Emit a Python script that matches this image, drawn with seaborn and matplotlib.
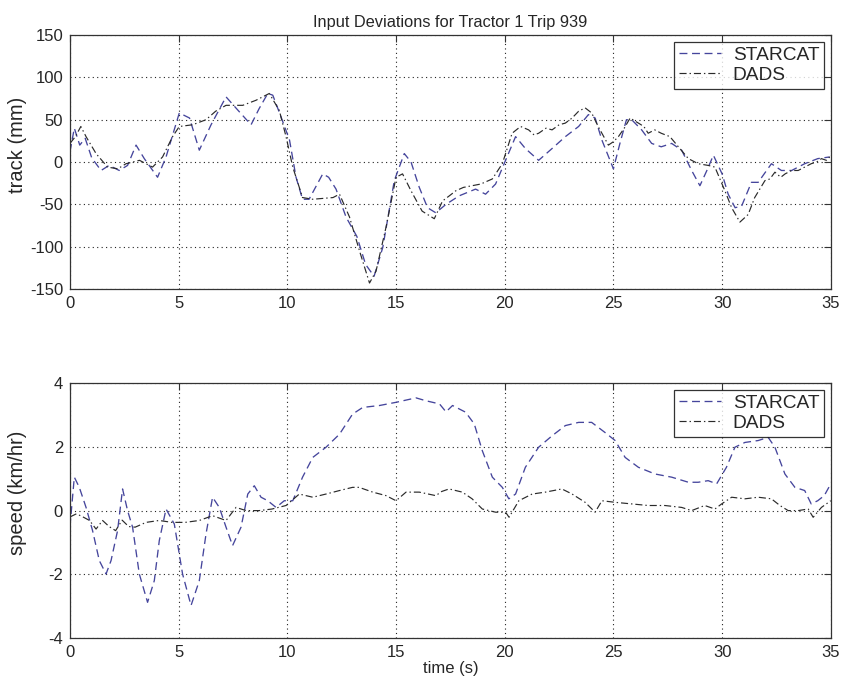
import matplotlib
matplotlib.use("Agg")
import matplotlib.pyplot as plt
import seaborn as sns

# ---- data ----
# Top panel: track (mm)
track_starcat_t = [0.0, 0.2, 0.45, 0.7, 1.0, 1.43, 1.8, 2.27, 2.65, 3.04, 3.42, 4.03, 4.42, 5.03, 5.5, 5.95,
                   6.49, 7.18, 7.7, 8.33, 8.7, 9.1, 9.33, 9.7, 10.1, 10.4, 10.7, 11.0, 11.63, 11.9, 12.24,
                   12.7, 13.2, 13.6, 13.99, 14.39, 14.92, 15.38, 15.69, 16.07, 16.45, 16.83, 17.3, 17.9,
                   18.66, 19.12, 19.58, 20.04, 20.5, 20.95, 21.56, 22.18, 22.79, 23.4, 23.85, 24.16, 24.47,
                   25.0, 25.3, 25.6, 25.84, 26.3, 26.76, 27.2, 27.68, 28.14, 28.6, 28.98, 29.3, 29.6, 30.0,
                   30.28, 30.6, 30.9, 31.35, 31.66, 32.27, 32.73, 33.2, 33.8, 34.4, 34.95]
track_starcat = [12, 40, 20, 28, 5, -10, -4, -10, -4, 20, 4, -18, 6, 58, 52, 14,
                 44, 77, 62, 44, 63, 81, 79, 54, 26, -18, -44, -44, -14, -18, -32,
                 -65, -88, -121, -135, -101, -22, 10, 0, -30, -54, -60, -50, -40,
                 -32, -38, -26, 2, 30, 16, 2, 16, 30, 42, 56, 52, 26,
                 -8, 22, 50, 50, 38, 22, 18, 22, 14, -10, -28, -10, 8, -14,
                 -38, -54, -52, -24, -24, -2, -10, -10, -2, 4, 6]

track_dads_t = [0.0, 0.25, 0.5, 0.74, 1.2, 1.73, 2.2, 2.58, 3.2, 3.8, 4.26, 4.72, 5.03, 5.64, 6.26, 6.7,
                7.18, 7.95, 8.56, 9.17, 9.63, 9.94, 10.25, 10.7, 11.17, 12.1, 12.4, 12.86, 13.32, 13.78,
                14.08, 14.54, 15.0, 15.3, 15.69, 16.2, 16.76, 17.14, 17.45, 17.75, 18.1, 18.5, 18.9, 19.43,
                19.89, 20.34, 20.73, 21.1, 21.35, 21.56, 21.9, 22.18, 22.5, 22.79, 23.1, 23.4, 23.7, 24.0,
                24.3, 24.77, 25.0, 25.23, 25.5, 25.77, 26.15, 26.4, 26.6, 26.9, 27.2, 27.6, 27.99, 28.45,
                28.9, 29.36, 29.67, 30.13, 30.44, 30.82, 31.2, 31.5, 31.97, 32.2, 32.43, 32.7, 32.9, 33.2,
                33.5, 33.8, 34.1, 34.35, 34.57, 34.8, 34.95]
track_dads = [22, 30, 42, 30, 10, -6, -8, -2, 2, -6, 6, 30, 42, 44, 50, 60,
              67, 67, 73, 81, 61, 30, -6, -42, -44, -42, -38, -65, -105, -143,
              -129, -77, -18, -14, -34, -58, -67, -46, -40, -34, -30, -28, -26, -20,
              -2, 34, 42, 38, 32, 34, 40, 38, 44, 46, 52, 60, 64, 58,
              42, 20, 24, 30, 40, 52, 46, 42, 34, 38, 34, 30, 18, 4,
              -2, -4, -6, -34, -54, -71, -62, -42, -22, -20, -12, -18, -14, -10,
              -10, -6, -2, 0, 4, 2, 6]

# Bottom panel: speed (km/hr)
speed_starcat_t = [0.0, 0.2, 0.43, 0.74, 1.04, 1.35, 1.66, 1.89, 2.19, 2.42, 2.65, 2.88, 3.19, 3.57, 3.88,
                   4.11, 4.42, 4.8, 5.18, 5.57, 5.95, 6.26, 6.56, 6.87, 7.18, 7.48, 7.87, 8.18, 8.48, 8.79,
                   9.1, 9.48, 9.86, 10.25, 10.7, 11.17, 11.78, 12.4, 13.0, 13.47, 14.24, 15.0, 15.92,
                   16.37, 17.0, 17.3, 17.6, 18.2, 18.6, 18.97, 19.43, 19.89, 20.19, 20.5, 20.95, 21.56,
                   22.18, 22.79, 23.4, 24.0, 24.6, 25.08, 25.54, 26.15, 26.91, 27.68, 28.45, 28.9, 29.36,
                   29.75, 30.2, 30.59, 31.05, 31.66, 32.12, 32.43, 32.89, 33.35, 33.8, 34.1, 34.4, 34.7, 35.0]
speed_starcat = [-0.5, 1.05, 0.73, 0.1, -0.63, -1.57, -1.99, -1.57, -0.63, 0.68, 0.0, -0.52, -1.99, -2.88, -2.2,
                 -0.94, 0.05, -0.42, -1.99, -2.98, -2.2, -0.73, 0.42, 0.1, -0.52, -1.1, -0.52, 0.52, 0.78, 0.42,
                 0.31, 0.1, 0.31, 0.31, 1.05, 1.67, 1.99, 2.4, 3.03, 3.24, 3.3, 3.4, 3.54,
                 3.45, 3.35, 3.1, 3.3, 3.09, 2.72, 1.88, 1.05, 0.73, 0.37, 0.52, 1.36, 1.99,
                 2.35, 2.67, 2.77, 2.77, 2.46, 2.2, 1.67, 1.36, 1.15, 1.05, 0.89, 0.89, 0.94,
                 0.84, 1.36, 1.99, 2.14, 2.2, 2.3, 1.99, 1.15, 0.73, 0.63, 0.21, 0.31, 0.47, 0.84]

speed_dads_t = [0.0, 0.3, 0.6, 0.9, 1.2, 1.5, 1.8, 2.1, 2.4, 2.7, 3.0, 3.5, 4.1, 4.7, 5.3, 5.95, 6.56,
                7.18, 7.64, 8.1, 8.7, 9.3, 9.94, 10.55, 11.17, 11.78, 12.4, 13.0, 13.3, 13.93, 14.54, 15.0,
                15.46, 16.07, 16.83, 17.1, 17.44, 18.05, 18.5, 18.97, 19.58, 20.04, 20.2, 20.65, 21.26,
                21.87, 22.63, 23.1, 23.7, 24.16, 24.47, 25.08, 25.84, 26.6, 27.37, 28.14, 28.6, 29.2,
                29.67, 29.98, 30.44, 31.05, 31.66, 32.27, 32.66, 33.04, 33.5, 33.96, 34.19, 34.57, 35.0]
speed_dads = [-0.2, -0.1, -0.2, -0.31, -0.58, -0.31, -0.5, -0.63, -0.3, -0.5, -0.52, -0.37, -0.31, -0.37,
              -0.37, -0.31, -0.16, -0.31, 0.1, 0.0, 0.0, 0.05, 0.16, 0.52, 0.42, 0.52, 0.63, 0.73, 0.73,
              0.58, 0.47, 0.31, 0.58, 0.58, 0.47, 0.6, 0.68, 0.58, 0.37, 0.05, -0.05, -0.05, -0.21, 0.31,
              0.52, 0.58, 0.68, 0.52, 0.26, -0.05, 0.31, 0.26, 0.21, 0.16, 0.16, 0.1, 0.0, 0.16,
              0.05, 0.21, 0.42, 0.37, 0.42, 0.37, 0.16, 0.0, 0.0, 0.05, -0.21, 0.1, 0.31]

series_names = ["STARCAT", "DADS"]
title = "Input Deviations for Tractor 1 Trip 939"

# ---- style ----
sns.set_style("white")
plt.rcParams["font.family"] = ["Liberation Sans", "DejaVu Sans"]
plt.rcParams["axes.unicode_minus"] = False

fig = plt.figure(figsize=(8.46, 6.88), dpi=100)
ax1 = fig.add_axes([0.0827, 0.580, 0.8993, 0.369])
ax2 = fig.add_axes([0.0827, 0.0727, 0.8993, 0.3703])

c_star = "#45459c"
c_dads = "#2a2a2a"
dash_star = [6, 3.5]
dash_dads = [6, 2.5, 1.2, 2.5]

def panel(ax, ts, ys, td, yd, ylim, yticks, ylabel):
    sns.lineplot(x=ts, y=ys, ax=ax, color=c_star, linewidth=0.95, label=series_names[0])
    sns.lineplot(x=td, y=yd, ax=ax, color=c_dads, linewidth=0.85, label=series_names[1])
    ax.lines[0].set_dashes(dash_star)
    ax.lines[1].set_dashes(dash_dads)
    ax.set_xlim(0, 35)
    ax.set_ylim(*ylim)
    ax.set_xticks(range(0, 36, 5))
    ax.set_yticks(yticks)
    ax.grid(True, color="#222222", linestyle=(0, (1, 3)), linewidth=0.8)
    for s in ax.spines.values():
        s.set_color("#333333")
        s.set_linewidth(0.9)
    ax.tick_params(direction="in", top=True, right=True, length=5, labelsize=12,
                   color="#333333", pad=5)
    ax.set_ylabel(ylabel, fontsize=14.5)
    ax.yaxis.set_label_coords(-0.056, 0.568)
    leg = ax.legend(loc="upper right", fontsize=13.8, frameon=True, fancybox=False,
                    edgecolor="black", borderpad=0.25, handlelength=2.2, handletextpad=0.6,
                    labelspacing=0.12, borderaxespad=0.35)
    leg.get_frame().set_linewidth(0.9)
    leg.get_lines()[0].set_dashes(dash_star)
    leg.get_lines()[1].set_dashes(dash_dads)

panel(ax1, track_starcat_t, track_starcat, track_dads_t, track_dads,
      (-150, 150), range(-150, 151, 50), "track (mm)")
panel(ax2, speed_starcat_t, speed_starcat, speed_dads_t, speed_dads,
      (-4, 4), range(-4, 5, 2), "speed (km/hr)")

ax1.set_title(title, fontsize=11.8, pad=6)
ax2.set_xlabel("time (s)", fontsize=12, labelpad=1)

fig.savefig("out.png", dpi=100)
